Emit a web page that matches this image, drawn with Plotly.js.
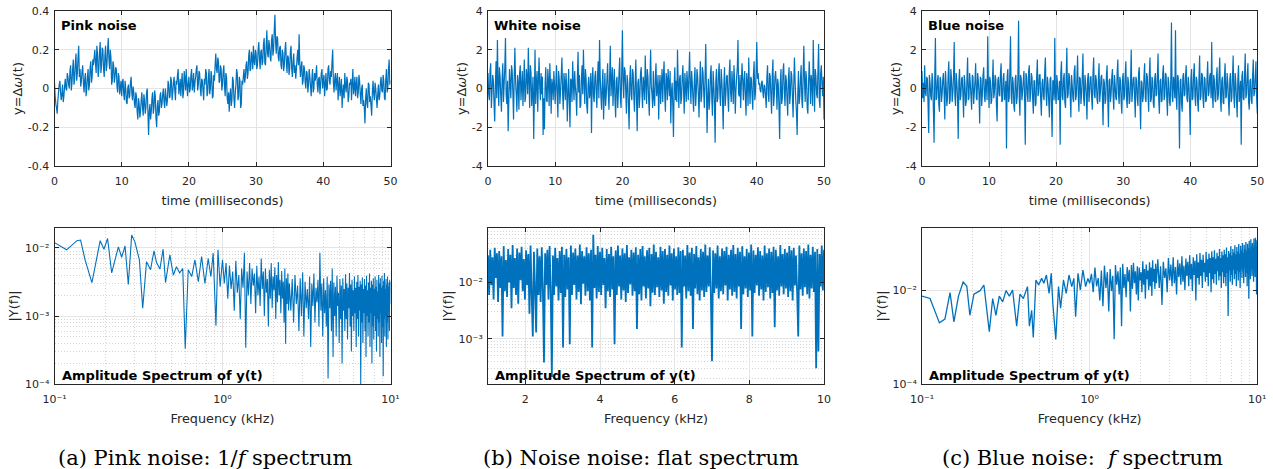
<!DOCTYPE html>
<html><head><meta charset="utf-8">
<script src="https://cdn.plot.ly/plotly-3.0.1.min.js"></script>
<style>html,body{margin:0;padding:0;background:#fff;}#chart{width:1273px;height:469px;}</style>
</head><body><div id="chart"></div>
<script>
// ---------- DATA ----------
const timeStartMs = 0, timeStepMs = 0.1;

const pinkTime = [
.03,-.04,-.08,-.1,-.13,-.06,-.02,.02,.04,-.02,-.06,-.03,.02,-.07,-.04,.01,.05,0,-.01,.08,
.06,.02,0,.09,.12,-.01,.03,.1,.15,.02,.05,.13,.18,.04,.08,.16,.22,.06,.1,.01,
.04,.09,.12,.03,-.02,.05,.08,-.04,0,.06,.1,-.01,.02,.11,.14,.03,.06,.15,.12,.16,
.2,.13,.08,.22,.18,.06,.1,.19,.24,.08,.12,.21,.2,.1,.06,.17,.22,.09,.12,.2,
.26,.15,.1,.2,.16,.02,.04,.14,.12,.03,.06,.11,.1,.01,-.02,.08,.06,-.03,0,.04,
-.04,.03,.05,-.03,-.06,.04,0,-.07,-.08,0,.02,-.05,-.04,.03,.06,-.02,-.06,.01,-.02,-.08,
-.1,-.02,-.04,-.12,-.16,-.05,-.08,-.15,-.12,-.06,-.02,-.1,-.14,-.03,-.06,-.13,-.1,-.02,0,-.12,
-.24,-.12,-.08,-.16,-.12,-.05,-.02,-.13,-.1,-.01,-.04,-.15,-.2,-.09,-.06,-.14,-.12,-.04,-.02,-.1,
-.08,-.03,0,-.07,-.1,0,-.04,-.09,-.06,.04,.02,-.05,-.04,.06,.04,-.06,-.02,.03,.06,-.01,
-.06,.04,.02,.07,.1,-.03,0,.05,-.04,.03,.08,-.05,-.02,.09,.05,-.01,.1,.02,-.04,.03,
.06,-.02,0,.07,.1,-.01,.02,.08,-.02,.03,.06,.1,.12,-.01,.02,.09,.08,0,-.04,.05,
.04,-.01,-.06,.05,.02,.1,.08,-.04,-.02,.06,.1,-.03,0,.09,.06,-.05,-.04,.07,.04,.12,
.18,.1,.08,.16,.14,.03,.04,.12,.1,-.01,.02,.09,.12,.01,-.04,.08,.06,-.05,-.08,-.02,
-.12,-.04,0,-.09,-.06,.06,.04,-.05,-.1,-.02,.02,.1,.08,-.06,-.04,.06,.04,-.1,-.08,.04,
.02,.06,.1,.03,.06,.12,.14,.05,.08,.17,.2,.09,.1,.19,.16,.1,.22,.14,.12,.2,
.18,.1,.12,.2,.24,.15,.1,.19,.2,.12,.14,.23,.26,.13,.12,.22,.3,.18,.16,.25,
.22,.16,.14,.25,.28,.17,.2,.3,.38,.24,.18,.27,.26,.16,.14,.21,.22,.12,.1,.2,
.18,.09,.12,.2,.24,.14,.08,.17,.16,.07,.1,.19,.22,.1,.06,.14,.18,.08,.12,.05,
.1,.16,.2,.12,.28,.13,.06,.11,.14,.02,.04,.12,.1,.03,0,.09,.08,-.02,.02,.1,
.06,.01,-.04,.05,.1,-.02,0,.08,.04,.07,.12,.02,-.02,.05,.06,-.03,.02,.08,.1,0,
.04,.07,-.04,.02,.08,-.01,0,.1,.12,.04,.02,.09,.06,.14,.2,.03,-.02,.05,.08,-.01,
.04,.08,-.06,.01,.06,-.04,0,.05,-.1,-.02,.02,-.05,.08,.01,-.02,.06,.04,-.07,-.04,.03,
.02,.05,-.06,.03,.1,-.03,0,.06,-.04,.02,.06,-.05,-.02,.07,.04,-.03,-.08,0,.02,-.09,
-.06,-.1,-.18,-.05,0,-.08,-.1,.03,.02,-.07,-.04,-.09,-.14,-.02,.04,-.03,-.06,.03,0,-.05,
-.1,-.03,.02,-.06,-.04,.03,.06,-.01,-.02,.07,.04,-.05,-.06,.05,.1,-.02,0,.1,.15,.02,.04];

const whiteTime = [
.8,-.3,-.6,.9,1.3,-1,-.2,.7,.4,-.8,-1.7,.2,1.4,-.5,2.5,.3,-.9,1.1,.6,-.4,
-1.2,.5,1.3,-.7,.2,1.1,2.6,-.3,-.8,.4,-2.2,-.6,1,.2,-.5,1.2,.9,-.2,-1.6,.6,
2.1,.4,-.3,-1.2,.7,.3,-1.1,.8,1.2,-.6,.1,.9,-.9,.2,1.5,-.7,-.4,1,.6,-.3,
2.1,.5,-1,1.2,.8,-.9,-.2,.6,-2.6,-.4,2,-.8,.3,.9,-1.2,.4,1.6,.1,-.6,.8,
-.3,.6,-2.4,-.5,-2.1,.3,1.1,-.6,-.7,1,.4,-.9,1.3,.2,-1.3,.5,.2,-.6,.9,.1,
-.8,.3,1.2,-.4,-1.5,.9,.5,-.8,-.1,.7,1.6,-.2,-1.1,.8,.3,-.6,.8,.2,-1.7,-.3,
1,-.6,-2,.5,.4,-.7,1.4,.3,-.6,.9,.1,-.4,-1.4,.6,1.9,-.2,.7,-1,-.9,.5,
1.2,-.3,2,.4,-.8,1,.5,-.9,-1.3,.2,.6,-.5,-.2,.8,-2.3,.3,1.1,-.4,-.7,.6,
.9,-.2,-1,.7,1.4,-.5,2.5,.6,-.4,-1.1,.2,1,-1.6,-.3,.8,-.9,-.3,.5,1.3,-.2,
-1.1,.6,2.2,-.4,.4,1.1,-.9,.2,1,-.7,-1.5,.4,.6,-1,-.2,.8,1.6,-.5,-1,.9,
3,.4,-.5,1.1,.9,-.2,-1.3,.7,.3,-.9,-2.1,.5,1.2,-.3,-.6,1,.8,-.4,-1.2,.3,
1.5,-.5,-2.2,.3,.5,-1,-.4,.8,1.1,-.2,-1,.6,.2,-.6,1.7,.3,-.8,1,.6,-.5,
-1.4,.4,2,.1,-.3,-1,.9,-.5,-.9,.6,1.3,-.4,-.1,.7,-1.6,.1,.7,-.8,.2,1,
-.7,.6,1.4,-.3,-1.2,.8,.5,-.6,1,.2,-.4,.9,-1.8,-.2,.3,-.9,-2.5,.1,1.1,-.6,
.4,-.7,2,.3,-1,.5,.7,-.8,-.5,.6,1.2,-.1,-1.3,.8,.1,-.7,.9,.3,-.6,.7,
1.9,.2,-.8,.9,.3,-.5,-1.2,.4,1.1,-.9,-.2,1,.6,-.3,-1.5,.2,1.4,-.7,-.4,1.1,
.8,-.2,-1,.6,2.3,.1,-2.3,-.4,.5,-1.1,-.6,.7,1.2,-.5,-1.4,.9,.2,-.8,-2.8,.4,
1,-.7,-.5,.8,1.3,-.3,-.9,1,.4,-.6,-2.1,.2,1.1,-.9,-.3,.6,.7,-.4,-1.2,.8,
1.5,-.2,-.7,.9,.2,-.8,1.2,.4,-1.3,-.1,.6,1.1,2.5,-.3,-.4,.7,-1,.2,1.3,.5,
-.6,.4,.9,-.5,-1.4,.8,.3,-.9,1.6,.1,-.8,.6,.5,-.4,-1.1,.7,1.4,-.6,-.2,.9,
2.4,.5,.8,.2,.3,-.1,-.2,.3,.4,-.2,-.5,.2,.1,-.4,-1,.6,1.2,-.3,-.7,.8,
.6,-.4,-1.3,.7,1.5,-.9,-.4,.6,.9,.2,-1.1,.5,.2,-1,-2.6,.3,1,-.8,-.5,.9,
1.3,-.2,-.9,.7,.4,-.6,-1.4,.5,1.1,-.8,-.3,.9,.7,-.4,-1.5,.2,1.6,.4,-.6,-1.2,
-2.4,-.3,.9,-.8,-.4,.5,1.2,-.6,-1,.8,2.2,.3,-.7,.9,.5,-1,-1.3,.2,1.4,.5,
-.8,.7,.3,-.9,2.5,.4,-1.2,1,.6,-.3,-.5,.9,2.3,-.6,-1,.8,1.2,.2,-.4,.6,-1.6];

const blueTime = [
.9,-.5,.3,-.7,1.2,-.2,-.4,.6,.5,-.8,-2.3,.7,.3,-.4,-.6,.8,.4,-1.1,-2.8,.6,
2.6,-.6,-.5,.4,.7,-.8,-1.2,.6,.4,-.7,-.3,.5,.8,-.2,-1.6,.9,.2,-.9,-.5,.7,
1.4,-.8,-.6,1,.5,-.7,-.2,.6,2.4,-.4,-.9,.8,.3,-.5,-2.6,.4,1,-.6,-.4,.5,
.6,-.3,-1.5,.7,.3,-.9,-.7,.5,1.6,-.6,-.5,.8,.3,-.4,-1.1,.7,.6,-.8,-.2,.4,
1.3,-.5,-.6,.8,.4,-.3,-1.8,.6,.5,-.9,-.3,.7,1.1,-.4,-.7,.5,.2,-.6,2.7,.3,
-1,.6,.4,-.8,-.6,.3,1.5,-.5,-.2,.7,.5,-.9,-1.7,.4,.6,-.3,-.4,.8,1.3,-.7,
-.6,.5,.8,-.6,-.3,.4,-3.1,.6,1,-.7,-.5,.9,2.7,-.4,-.8,.6,.3,-.9,-1.2,.5,
.7,-.8,-.4,.6,3.5,-.5,-1.4,.7,.5,-.6,-.2,.4,.9,-.5,-2.9,.8,.6,-.3,-.7,.9,
1.2,-.7,-.3,.8,.6,-.5,-1.3,.4,.4,-.9,-.8,.6,1.5,-.4,-.2,.7,.7,-.6,-1.4,.3,
.5,-.4,-.6,.9,1.6,-.3,-.9,.6,.2,-.7,-1.5,.5,.6,-.8,-2.5,.4,.4,-.6,2.6,-.3,
-.8,.7,.3,-.6,-.5,.4,-2.9,.8,1.4,-.4,-.6,.5,.8,-.7,-1,.6,2.1,-.5,-.3,.8,
.6,-.4,-1.5,.7,.2,-.5,-.7,.9,1.2,-.6,-.4,.5,1.7,-.3,-1.2,.6,.5,-.8,-.3,.6,
1.8,-.5,-.9,.7,.3,-.4,-1.6,.5,.8,-.7,-.2,.6,.6,-.5,-1.1,.8,1.6,-.3,-.5,.7,
.4,-.6,-.8,.5,1.3,-.7,-.2,.6,.7,-.4,-1.9,.5,.3,-.8,-.6,.7,1.2,-.5,-2,.4,
.5,-.7,-.3,.6,1,-.4,-1.1,.7,.2,-.5,-.6,.8,1.5,-.3,-.8,.6,.4,-.7,-1.3,.5,
.8,-.6,-.4,.7,1.4,-.5,-1,.6,.3,-.8,-.6,.4,2,-.7,-.2,.5,.6,-.4,-1.5,.6,
.4,-.5,-.9,.8,1.1,-.6,-2.1,.4,.3,-.7,-.4,.6,1.3,-.5,-.7,.8,.6,-.3,-1.2,.7,
1.6,-.7,-.5,.6,.4,-.8,-1,.5,.8,-.4,-.3,.7,1.8,-.6,-1.3,.4,.5,-.7,-.6,.8,
1.2,-.6,-.4,.8,.7,-.5,-1.4,.6,.3,-.7,-.9,.5,3.4,-.4,-.7,.6,.3,-.5,3,-.4,
-1.1,.7,.6,-.5,-3.1,.4,.5,-.8,-1.2,.6,.8,-.4,-.3,.7,1.2,-.5,-.7,.6,.2,-.8,
-2.4,.5,1,-.6,-.5,.7,1.3,-.4,-.9,.6,.4,-.7,-1.2,.5,1.7,-.6,-.4,.8,.7,-.5,
-1,.6,.5,-.7,-.6,.5,1.4,-.4,-.2,.6,.8,-.5,2.4,-.3,-1,.7,.4,-.6,-.7,.5,
1.1,-.6,-.3,.7,1.6,-.5,-1.2,.4,.6,-.7,-.8,.6,1.3,-.5,-.4,.8,.3,-.6,-1.4,.5,
.8,-.7,-.5,.6,1.7,-.4,-1,.8,.3,-.6,-1.5,.5,1.2,-.7,-.2,.4,-2.9,.6,.9,-.5,
-.6,.7,1.8,-.5,-.3,.6,1.3,-.7,-1.1,.4,.5,-.6,-.8,.7,1.5,-.4,-.2,.6,1.4,-.5,-1.3];

// Pink spectrum: low-frequency points (kHz, |Y|)
const pinkSpecLowFreq = [.1,.118,.136,.143,.152,.167,.187,.197,.207,.219,.24,.251,.263,.275,.288,.301,.32,.335,.353,.373,.391,.405,.424,.443,.458,.486,.51,.532,.556,.58,.6,.625,.656,.685,.718,.751,.786,.822,.853,.88,.914,.94,.968,1];
const pinkSpecLowAmp = [.012,.0094,.0128,.0131,.0067,.0031,.0128,.0096,.0138,.0043,.0104,.0073,.0107,.0029,.0155,.0123,.0067,.0013,.0063,.0048,.0091,.0061,.0049,.0096,.0031,.0079,.004,.0053,.0043,.005,.00033,.0048,.0038,.0067,.0032,.0075,.003,.007,.0038,.0084,.00072,.0094,.0027,.0067];
// 1.025 .. 2.5 kHz, step 0.025
const pinkSpecMidAmp = [
.003,.006,.0018,.0055,.0025,.0045,.0012,.0065,.0022,.004,
.0009,.005,.0026,.0085,.00034,.0045,.002,.006,.0015,.005,
.0028,.0042,.0011,.0055,.002,.0038,.0014,.007,.0025,.0045,
.001,.005,.0022,.0035,.0007,.0048,.0018,.006,.0013,.0038,
.0024,.0052,.0009,.004,.0016,.0062,.002,.0034,.0011,.0046,
.0018,.0032,.0008,.005,.00039,.0036,.0015,.0042,.0012,.003];
// 2.55 .. 10 kHz, step 0.05
const pinkSpecHighAmp = [
.0012,.0035,.0008,.004,.0015,.0028,.0006,.0036,.001,.0044,
.0005,.0032,.0013,.0025,.0009,.0038,.00035,.003,.0014,.0042,
.0008,.0026,.0016,.0034,.0007,.0085,.0012,.003,.0005,.0036,
.0011,.0024,.0007,.0038,.00012,.0029,.0013,.0033,.0006,.005,
.00025,.0031,.001,.0027,.0005,.0039,.0014,.0022,.0004,.0035,
.0009,.0028,.0002,.0036,.0012,.0025,.0006,.0041,.0009,.003,
.00045,.0026,.0013,.0043,.0007,.0029,.0003,.0034,.001,.0024,
.0006,.0038,.0011,.0026,.00035,.0032,.0009,.004,.0005,.0027,
.0012,.0033,.0001,.0029,.0008,.0037,.0004,.0025,.0011,.0035,
.0006,.0028,.00025,.0039,.001,.0024,.0005,.0031,.0008,.0042,
.00035,.0026,.0011,.0033,.0002,.0029,.0007,.0036,.00045,.0025,
.001,.0038,.0006,.0027,.0003,.0034,.0009,.0023,.0005,.004,
.0008,.003,.00025,.0036,.0011,.0026,.0004,.0039,.0007,.0028,
.00013,.0033,.0009,.0043,.0005,.0025,.001,.0035,.00035,.0029,
.0008,.0038,.00045,.0027,.0012,.0031,.0006,.0034,.0015,.0032];

// White spectrum: 1 .. 10 kHz, step 0.03
const whiteSpecAmp = [
.03,.006,.038,.009,.028,.005,.041,.012,.033,.0045,
.036,.008,.029,.0011,.044,.007,.025,.0055,.039,.01,
.031,.0035,.046,.008,.027,.006,.04,.0042,.034,.011,
.043,.007,.026,.005,.037,.009,.032,.0028,.045,.006,
.0011,.035,.008,.0013,.04,.006,.029,.0045,.042,.0075,
.00038,.033,.009,.038,.005,.044,.007,.00021,.03,.006,
.041,.0085,.027,.0048,.036,.0065,.043,.0007,.031,.0055,
.039,.0075,.028,.0008,.045,.006,.034,.009,.04,.005,
.03,.0068,.047,.0041,.036,.0095,.029,.0058,.042,.007,
.033,.0048,.038,.0007,.07,.008,.031,.0052,.044,.0068,
.035,.006,.041,.009,.027,.0035,.039,.007,.032,.0055,
.043,.0075,.029,.0008,.037,.006,.045,.0085,.03,.005,
.04,.0072,.033,.0045,.046,.0065,.028,.0092,.038,.0058,
.034,.007,.042,.0015,.031,.0062,.039,.0048,.044,.0085,
.029,.0052,.037,.0078,.041,.0038,.032,.0066,.047,.006,
.035,.0082,.028,.0055,.043,.0072,.036,.0042,.039,.0068,
.031,.0058,.045,.0088,.033,.0048,.04,.0075,.029,.006,
.042,.0065,.036,.0007,.038,.0085,.03,.0052,.046,.007,
.034,.0058,.041,.0015,.032,.0078,.044,.0062,.028,.0048,
.039,.0072,.035,.0055,.047,.0068,.03,.0085,.042,.0058,
.0004,.037,.0065,.033,.0078,.045,.0052,.029,.007,.04,
.0062,.036,.0088,.043,.0048,.031,.0075,.038,.0058,.046,
.0068,.032,.0052,.041,.0085,.035,.0015,.044,.0062,.029,
.0078,.039,.0055,.034,.0072,.047,.0011,.037,.0065,.031,
.0088,.042,.0058,.036,.0075,.03,.0048,.045,.0068,.033,
.0082,.04,.0052,.035,.0065,.043,.0016,.038,.0072,.029,
.0058,.046,.0085,.032,.0062,.039,.0078,.034,.0055,.044,
.007,.037,.0048,.041,.0088,.03,.0068,.0011,.045,.0075,
.033,.0058,.04,.0082,.036,.0062,.047,.0052,.031,.0078,
.043,.0068,.035,.0003,.039,.0006,.032,.0085,.045,.0072,
.038];

// Blue spectrum: low-frequency points (kHz, |Y|)
const blueSpecLowFreq = [.1,.1117,.127,.137,.147,.155,.165,.176,.185,.193,.204,.222,.234,.252,.264,.276,.289,.303,.317,.332,.347,.367,.384,.402,.426,.437,.451,.461,.478,.496,.517,.533,.552,.573,.59,.603,.628,.652,.671,.698,.725,.753,.782,.805,.825,.852,.88,.912,.946,.976,1];
const blueSpecLowAmp = [.0074,.0066,.002,.0024,.0088,.0021,.0074,.0148,.0122,.0029,.0082,.0097,.0128,.0013,.0066,.0029,.0074,.0056,.0097,.0074,.01,.0017,.0082,.0066,.0118,.0017,.0037,.00098,.0163,.0128,.0177,.0139,.0209,.0085,.0226,.0052,.00089,.0118,.0041,.0163,.0085,.0209,.0118,.0177,.0027,.0226,.01,.0266,.0118,.0177,.0139];
// 1.025 .. 2.5 kHz, step 0.025
const blueSpecMidAmp = [
.022,.009,.03,.012,.018,.006,.026,.0045,.033,.011,
.024,.0035,.028,.0095,.02,.0009,.034,.013,.025,.008,
.03,.0017,.036,.011,.022,.007,.031,.015,.027,.0035,
.034,.0105,.038,.014,.025,.008,.032,.006,.03,.016,
.024,.009,.041,.013,.028,.0065,.035,.017,.026,.01,
.039,.012,.03,.0075,.043,.015,.028,.0105,.036,.014];
// 2.55 .. 10 kHz, step 0.05
const blueSpecHighAmp = [
.045,.011,.032,.0048,.04,.018,.029,.009,.048,.016,
.035,.012,.05,.014,.031,.008,.044,.019,.037,.013,
.052,.015,.033,.01,.047,.02,.04,.012,.055,.017,
.036,.0095,.05,.021,.042,.006,.058,.018,.039,.013,
.061,.02,.044,.011,.056,.024,.038,.015,.065,.019,
.045,.012,.06,.023,.048,.009,.067,.017,.05,.014,
.07,.022,.046,.013,.062,.025,.052,.016,.075,.02,
.048,.011,.066,.024,.055,.014,.072,.019,.058,.012,
.08,.023,.05,.0028,.068,.026,.06,.015,.085,.021,
.054,.013,.075,.027,.063,.017,.09,.022,.057,.012,
.082,.026,.066,.016,.095,.024,.06,.011,.088,.028,
.07,.018,.1,.025,.062,.014,.092,.029,.075,.019,
.105,.023,.068,.012,.096,.03,.078,.0065,.11,.026,
.072,.017,.12,.028,.085,.02,.1,.033,.08,.015,
.125,.027,.09,.019,.13,.031,.078,.008,.115,.024];

const panelTitles = ['Pink noise','White noise','Blue noise'];
const spectrumLabel = 'Amplitude Spectrum of y(t)';
const captions = ['(a) Pink noise: 1/<i>f</i> spectrum','(b) Noise noise: flat spectrum','(c) Blue noise: \u00a0<i>f</i> spectrum'];

// ---------- BUILD ----------
function grid(start, step, n){ const a=[]; for(let i=0;i<n;i++) a.push(+(start+i*step).toFixed(4)); return a; }
const t = grid(timeStartMs, timeStepMs, pinkTime.length);
const pinkF = pinkSpecLowFreq.concat(grid(1.025,0.025,pinkSpecMidAmp.length), grid(2.55,0.05,pinkSpecHighAmp.length));
const pinkA = pinkSpecLowAmp.concat(pinkSpecMidAmp, pinkSpecHighAmp);
const whiteF = grid(1,0.03,whiteSpecAmp.length);
const blueF = blueSpecLowFreq.concat(grid(1.025,0.025,blueSpecMidAmp.length), grid(2.55,0.05,blueSpecHighAmp.length));
const blueA = blueSpecLowAmp.concat(blueSpecMidAmp, blueSpecHighAmp);

const W=1273, H=469;
const xd=(a,b)=>[a/W,b/W], yd=(top,bot)=>[1-bot/H,1-top/H];
const cols=[[54.5,390.5],[488,824],[922,1257.3]];
const rowTop=[11,166], rowBot=[228,384];
const ink='#262626';
const tf={family:'DejaVu Sans',size:11,color:ink};
const lf={family:'DejaVu Sans',size:12.8,color:ink};
const blue='#0072bd';

const mk=(x,y,i,w)=>({x,y,xaxis:'x'+(i>1?i:''),yaxis:'y'+(i>1?i:''),type:'scatter',mode:'lines',line:{color:blue,width:w,simplify:false},hoverinfo:'skip',showlegend:false});
const data=[mk(t,pinkTime,1,1.2),mk(t,whiteTime,2,1.2),mk(t,blueTime,3,1.2),mk(pinkF,pinkA,4,1.1),mk(whiteF,whiteSpecAmp,5,1.8),mk(blueF,blueA,6,1.3)];

const base={showline:true,mirror:'ticks',linecolor:ink,linewidth:1,ticks:'inside',ticklen:4,tickcolor:ink,tickwidth:1,
  showgrid:true,gridcolor:'#e4e4e4',gridwidth:1,zeroline:false,tickfont:tf,fixedrange:true,tickmode:'array'};
const xb=Object.assign({},base,{ticklabelstandoff:5});
const yb=Object.assign({},base,{ticklabelstandoff:2});
const sup={'-4':'10\u207b\u2074','-3':'10\u207b\u00b3','-2':'10\u207b\u00b2','-1':'10\u207b\u00b9','0':'10\u2070','1':'10\u00b9'};
function minorLog(lo,hi){const v=[];for(let e=lo;e<hi;e++)for(let k=2;k<=9;k++)v.push(k*Math.pow(10,e));return v;}
const minorGrid=(vals)=>({tickmode:'array',tickvals:vals,showgrid:true,gridcolor:'#d4d4d4',griddash:'1px,2px',gridwidth:1,ticks:''});
const tTitle={text:'time (milliseconds)',font:lf,standoff:8};
const fTitle={text:'Frequency (kHz)',font:lf,standoff:8};
const yTitle={text:'y=Δ<i>ω</i>(t)',font:lf,standoff:2};
const sTitle={text:'|Y(f)|',font:lf,standoff:3};
const timeTicks={tickvals:[0,10,20,30,40,50],ticktext:['0','10','20','30','40','50']};
const bigY={range:[-4,4],tickvals:[-4,-2,0,2,4],ticktext:['-4','-2','0','2','4']};

const layout={width:W,height:H,margin:{l:0,r:0,t:0,b:0},paper_bgcolor:'#fff',plot_bgcolor:'#fff',showlegend:false,
 font:{family:'DejaVu Sans',color:ink},
 xaxis:Object.assign({},xb,timeTicks,{domain:xd(...cols[0]),anchor:'y',range:[0,50],title:tTitle}),
 yaxis:Object.assign({},yb,{domain:yd(...rowTop),anchor:'x',range:[-0.4,0.4],tickvals:[-0.4,-0.2,0,0.2,0.4],ticktext:['-0.4','-0.2','0','0.2','0.4'],title:yTitle}),
 xaxis2:Object.assign({},xb,timeTicks,{domain:xd(...cols[1]),anchor:'y2',range:[0,50],title:tTitle}),
 yaxis2:Object.assign({},yb,bigY,{domain:yd(...rowTop),anchor:'x2',title:yTitle}),
 xaxis3:Object.assign({},xb,timeTicks,{domain:xd(...cols[2]),anchor:'y3',range:[0,50],title:tTitle}),
 yaxis3:Object.assign({},yb,bigY,{domain:yd(...rowTop),anchor:'x3',title:yTitle}),
 xaxis4:Object.assign({},xb,{domain:xd(...cols[0]),anchor:'y4',type:'log',range:[-1,1],tickvals:[0.1,1,10],ticktext:[sup['-1'],sup['0'],sup['1']],minor:minorGrid(minorLog(-1,1)),title:fTitle}),
 yaxis4:Object.assign({},yb,{domain:yd(...rowBot),anchor:'x4',type:'log',range:[-4,-1.706],tickvals:[1e-4,1e-3,1e-2],ticktext:[sup['-4'],sup['-3'],sup['-2']],minor:minorGrid(minorLog(-4,-1)),title:sTitle}),
 xaxis5:Object.assign({},xb,{domain:xd(...cols[1]),anchor:'y5',range:[1,10],tickvals:[2,4,6,8,10],ticktext:['2','4','6','8','10'],title:fTitle}),
 yaxis5:Object.assign({},yb,{domain:yd(...rowBot),anchor:'x5',type:'log',range:[-3.8,-1.035],tickvals:[1e-3,1e-2],ticktext:[sup['-3'],sup['-2']],minor:minorGrid(minorLog(-4,-1)),title:sTitle}),
 xaxis6:Object.assign({},xb,{domain:xd(...cols[2]),anchor:'y6',type:'log',range:[-1,1],tickvals:[0.1,1,10],ticktext:[sup['-1'],sup['0'],sup['1']],minor:minorGrid(minorLog(-1,1)),title:fTitle}),
 yaxis6:Object.assign({},yb,{domain:yd(...rowBot),anchor:'x6',type:'log',range:[-4,-0.68],tickvals:[1e-4,1e-2],ticktext:[sup['-4'],sup['-2']],title:sTitle}),
 annotations:[]
};
const bold={family:'DejaVu Sans',size:13,color:'#000'};
panelTitles.forEach((txt,i)=>{
  layout.annotations.push({xref:'paper',yref:'paper',x:(cols[i][0]+4)/W,y:1-25/H,xanchor:'left',yanchor:'middle',text:'<b>'+txt+'</b>',showarrow:false,font:bold});
  layout.annotations.push({xref:'paper',yref:'paper',x:(cols[i][0]+5)/W,y:1-375/H,xanchor:'left',yanchor:'middle',text:'<b>'+spectrumLabel+'</b>',showarrow:false,font:bold});
});
const capX=[205,641,1082];
captions.forEach((txt,i)=>layout.annotations.push({xref:'paper',yref:'paper',x:capX[i]/W,y:1-458/H,xanchor:'center',yanchor:'middle',text:txt,showarrow:false,font:{family:'DejaVu Serif',size:21,color:'#000'}}));

Plotly.newPlot('chart',data,layout,{staticPlot:true,displayModeBar:false});
</script></body></html>
